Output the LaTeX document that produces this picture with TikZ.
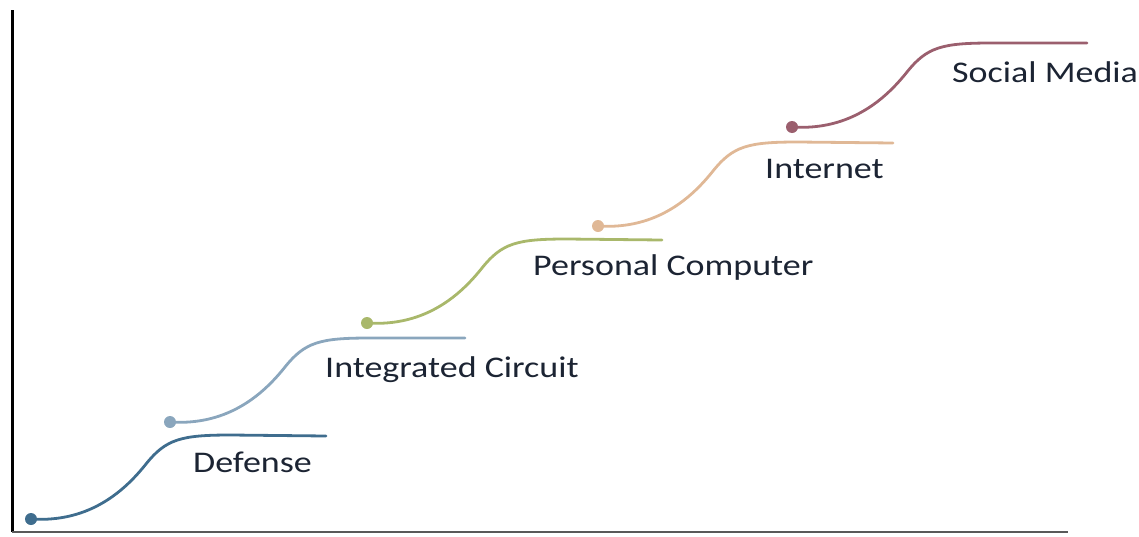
\documentclass[tikz,border=0pt]{standalone}
\usepackage{fontspec}
\setmainfont{Carlito}
\newfontfamily\erafont{Carlito}[FakeStretch=1.2]
\usepackage{tikz}
\usetikzlibrary{positioning}

\definecolor{defenseblue}{HTML}{3F6D8E}
\definecolor{chipblue}{HTML}{8AA6BD}
\definecolor{pcgreen}{HTML}{A9B86B}
\definecolor{nettan}{HTML}{E0B896}
\definecolor{socialmauve}{HTML}{9B5F6E}
\definecolor{labelink}{HTML}{1C2433}

\begin{document}
\begin{tikzpicture}[
    x=1pt, y=-1pt,
    dot/.style={circle, inner sep=0pt, minimum size=12pt},
    stage/.style={line width=2.8pt, line cap=round},
    era/.style={anchor=west, inner sep=0pt, text=labelink, font=\erafont\fontsize{30}{34}\selectfont},
    axis/.style={line width=3pt}
]
    \useasboundingbox (0,0) rectangle (1139,536);

    % Achsen
    \coordinate (origin) at (12,532);
    \coordinate (ytop) at (12,10);
    \coordinate (xend) at (1068,532);
    \draw[axis] (ytop) -- (origin);
    \draw[axis, black!65, line width=2.5pt] (origin) -- (xend);

    % Stufe 1
    \begin{scope}[shift={(31,519)}]
        \node[dot, fill=defenseblue] (defense-dot) at (0,0) {};
        \coordinate (defense-end) at (295,-83);
        \draw[stage, defenseblue] (defense-dot.center) .. controls (60,4) and (95,-30) .. (115,-55)
            .. controls (135,-80) and (150,-84) .. (200,-84) -- (defense-end);
        \node[era] (defense) at (162,-57) {Defense};
    \end{scope}

    % Stufe 2
    \begin{scope}[shift={(170,422)}]
        \node[dot, fill=chipblue] (chip-dot) at (0,0) {};
        \coordinate (chip-end) at (295,-84);
        \draw[stage, chipblue] (chip-dot.center) .. controls (60,4) and (95,-30) .. (115,-55)
            .. controls (135,-80) and (150,-84) .. (200,-84) -- (chip-end);
        \node[era] (chip) at (155,-52) {Integrated Circuit};
    \end{scope}

    % Stufe 3
    \begin{scope}[shift={(367,323)}]
        \node[dot, fill=pcgreen] (pc-dot) at (0,0) {};
        \coordinate (pc-end) at (295,-83);
        \draw[stage, pcgreen] (pc-dot.center) .. controls (60,4) and (95,-30) .. (115,-55)
            .. controls (135,-80) and (150,-84) .. (200,-84) -- (pc-end);
        \node[era] (pc) at (166,-56) {Personal Computer};
    \end{scope}

    % Stufe 4
    \begin{scope}[shift={(598,226)}]
        \node[dot, fill=nettan] (net-dot) at (0,0) {};
        \coordinate (net-end) at (295,-83);
        \draw[stage, nettan] (net-dot.center) .. controls (60,4) and (95,-30) .. (115,-55)
            .. controls (135,-80) and (150,-84) .. (200,-84) -- (net-end);
        \node[era] (net) at (167,-57) {Internet};
    \end{scope}

    % Stufe 5
    \begin{scope}[shift={(792,127)}]
        \node[dot, fill=socialmauve] (social-dot) at (0,0) {};
        \coordinate (social-end) at (295,-84);
        \draw[stage, socialmauve] (social-dot.center) .. controls (60,4) and (95,-30) .. (115,-55)
            .. controls (135,-80) and (150,-84) .. (200,-84) -- (social-end);
        \node[era] (social) at (160,-55) {Social Media};
    \end{scope}
\end{tikzpicture}
\end{document}
